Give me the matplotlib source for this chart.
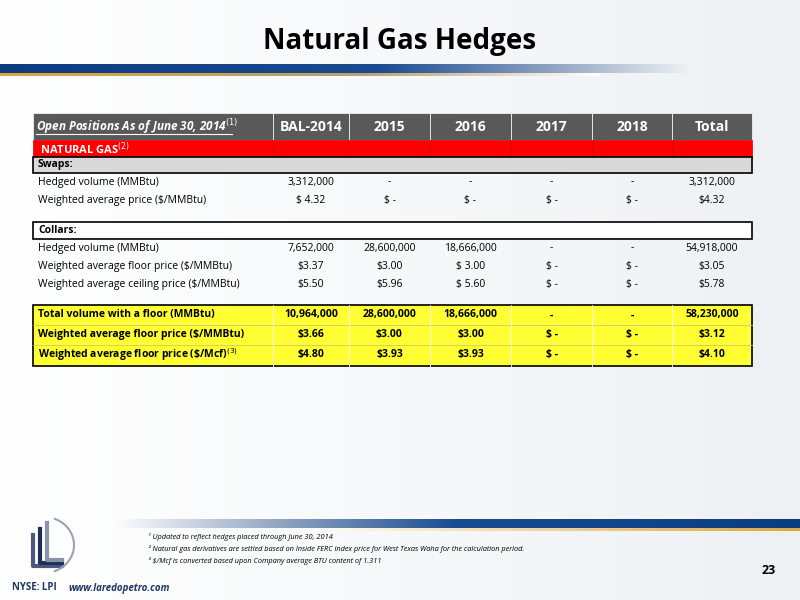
import numpy as np
import matplotlib.pyplot as plt
from matplotlib.patches import Rectangle
from matplotlib.colors import LinearSegmentedColormap

plt.rcParams['font.family'] = ['Open Sans', 'DejaVu Sans']

columns = ['BAL-2014', '2015', '2016', '2017', '2018', 'Total']
swap_labels = ['Hedged volume (MMBtu)', 'Weighted average price ($/MMBtu)']
swap_values = [
    ['3,312,000', '-', '-', '-', '-', '3,312,000'],
    ['$ 4.32', '$ -', '$ -', '$ -', '$ -', '$4.32'],
]
collar_labels = ['Hedged volume (MMBtu)', 'Weighted average floor price ($/MMBtu)',
                 'Weighted average ceiling price ($/MMBtu)']
collar_values = [
    ['7,652,000', '28,600,000', '18,666,000', '-', '-', '54,918,000'],
    ['$3.37', '$3.00', '$ 3.00', '$ -', '$ -', '$3.05'],
    ['$5.50', '$5.96', '$ 5.60', '$ -', '$ -', '$5.78'],
]
total_labels = ['Total volume with a floor (MMBtu)', 'Weighted average floor price ($/MMBtu)',
                'Weighted average floor price (\\$/Mcf)$^{(3)}$']
total_values = [
    ['10,964,000', '28,600,000', '18,666,000', '-', '-', '58,230,000'],
    ['$3.66', '$3.00', '$3.00', '$ -', '$ -', '$3.12'],
    ['$4.80', '$3.93', '$3.93', '$ -', '$ -', '$4.10'],
]
footnotes = [
    '¹ Updated to reflect hedges placed through June 30, 2014',
    '² Natural gas derivatives are settled based on Inside FERC index price for West Texas Waha for the calculation period.',
    '³ $/Mcf is converted based upon Company average BTU content of 1.311',
]

fig = plt.figure(figsize=(8, 6), dpi=100)
ax = fig.add_axes([0, 0, 1, 1])
ax.set_xlim(0, 800)
ax.set_ylim(600, 0)
ax.axis('off')

# background
bg = np.linspace(0, 1, 256).reshape(1, -1)
ax.imshow(bg, extent=[0, 800, 600, 0], aspect='auto', zorder=0,
          cmap=LinearSegmentedColormap.from_list('bg', ['#ffffff', '#eef1f4']))

ax.text(400, 42, 'Natural Gas Hedges', ha='center', va='center', fontsize=20, fontweight='bold')

# title bar
blue = LinearSegmentedColormap.from_list(
    'b', [(0, '#0d3b80'), (0.55, '#1a4c92'), (0.8, '#8fa3c0'), (1, '#eef1f5')])
ax.imshow(bg, extent=[0, 690, 73, 64], aspect='auto', cmap=blue, zorder=1)
ax.imshow(bg, extent=[0, 600, 76, 73], aspect='auto', zorder=1,
          cmap=LinearSegmentedColormap.from_list('g', [(0, '#d9a840'), (0.6, '#b8a070'), (1, '#ffffff')]))
# bottom bar
blue_r = LinearSegmentedColormap.from_list(
    'br', [(0, '#ffffff'), (0.25, '#8fa3c0'), (0.5, '#1a4c92'), (1, '#0d3b80')])
ax.imshow(bg, extent=[110, 800, 528, 519], aspect='auto', cmap=blue_r, zorder=1)
ax.imshow(bg, extent=[300, 800, 531, 528], aspect='auto', zorder=1,
          cmap=LinearSegmentedColormap.from_list('g2', ['#ffffff', '#d9a840']))

# logo
for i, c in enumerate(['#4a5a7a', '#1f2f55', '#8a94a8']):
    ax.plot([33 + i * 7, 33 + i * 7, 62], [535 - i * 6, 566 - i * 3, 566 - i * 3], color=c, lw=3)
th = np.linspace(-1.2, 1.2, 50)
ax.plot(44 + 30 * np.cos(th), 545 + 28 * np.sin(th), color='#9aa3b3', lw=1.5)

# table geometry
xb = [33, 273, 349, 430, 511, 592, 672, 752]
centers = [(xb[i + 1] + xb[i]) / 2 for i in range(1, 7)]
L, R = xb[0], xb[-1]

def cells(y0, y1, color, edge=None):
    for i in range(7):
        ax.add_patch(Rectangle((xb[i], y0), xb[i + 1] - xb[i], y1 - y0, fc=color,
                               ec='white' if edge is None else edge, lw=0.5, zorder=2))

cells(113, 140, '#595959')
ax.text(L + 3, 127, 'Open Positions As of June 30, 2014$^{(1)}$', color='white', fontsize=8.5,
        fontweight='bold', fontstyle='italic', va='center', zorder=3)
ax.plot([L + 3, 232], [134, 134], color='white', lw=0.8, zorder=3)
for c, t in zip(centers, columns):
    ax.text(c, 127, t, color='white', fontsize=10, fontweight='bold', ha='center', va='center', zorder=3)

cells(140, 157, '#ff0000', edge='#cc0000')
ax.text(L + 7, 148.5, 'NATURAL GAS$^{(2)}$', color='white', fontsize=8, fontweight='bold',
        va='center', zorder=3)

ax.add_patch(Rectangle((L, 157), R - L, 16, fc='#d9d9d9', ec='black', lw=1.2, zorder=2))
ax.text(L + 5, 165, 'Swaps:', fontsize=7.5, fontweight='bold', va='center', zorder=3)

def rows(labels, values, ys, bold=False):
    for lab, vals, y in zip(labels, values, ys):
        ax.text(L + 5, y, lab, fontsize=7.5, va='center', zorder=3,
                fontweight='bold' if bold else 'normal')
        for c, v in zip(centers, vals):
            ax.text(c, y, v, fontsize=7.5, ha='center', va='center', zorder=3,
                    fontweight='bold' if bold else 'normal')

rows(swap_labels, swap_values, [182, 200])

ax.add_patch(Rectangle((L, 222), R - L, 17, fc='white', ec='black', lw=1.2, zorder=2))
ax.text(L + 5, 230.5, 'Collars:', fontsize=7.5, fontweight='bold', va='center', zorder=3)
rows(collar_labels, collar_values, [248, 266, 284])

ax.add_patch(Rectangle((L, 305), R - L, 61, fc='#ffff33', ec='black', lw=1.2, zorder=2))
for y in (325, 345):
    ax.plot([L, R], [y, y], color='#cccc66', lw=0.6, zorder=2)
for x in xb[1:-1]:
    ax.plot([x, x], [305, 366], color='white', lw=0.6, zorder=2)
rows(total_labels, total_values, [315, 335, 355], bold=True)

# footnotes
for i, t in enumerate(footnotes):
    ax.text(148, 537 + i * 12, t, fontsize=5.3, fontstyle='italic', va='center', zorder=3)
ax.text(762, 571, '23', fontsize=9, fontweight='bold', va='center', zorder=3)
ax.text(12, 588, 'NYSE: LPI', fontsize=7, fontweight='bold', color='#1f3864', va='center', zorder=3)
ax.text(68, 588, 'www.laredopetro.com', fontsize=7, fontweight='bold', fontstyle='italic',
        color='#1f3864', va='center', zorder=3)

fig.savefig('out.png', dpi=100)
